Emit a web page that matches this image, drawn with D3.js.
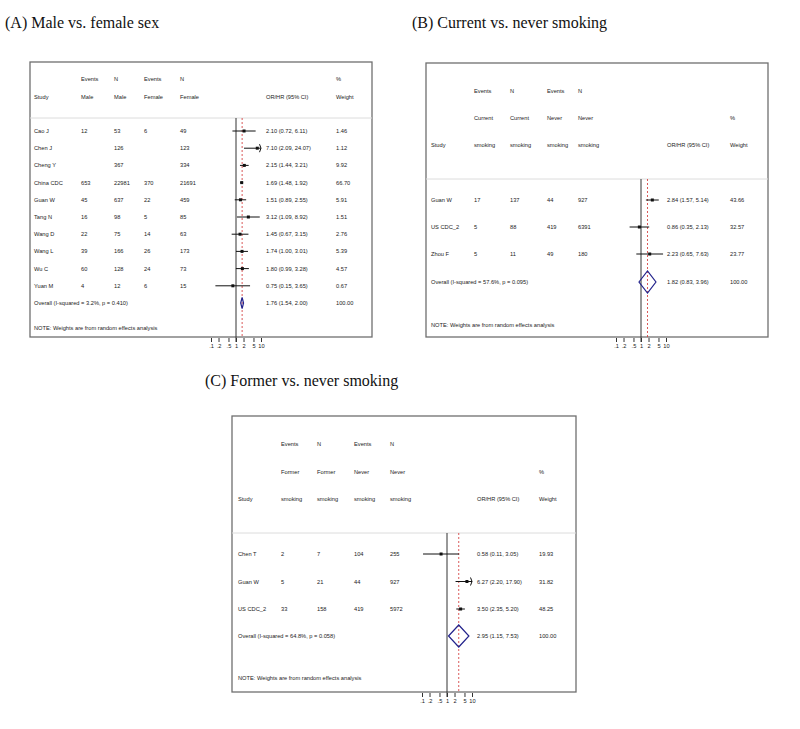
<!DOCTYPE html>
<html>
<head>
<meta charset="utf-8">
<script src="https://cdn.jsdelivr.net/npm/d3@7"></script>
<style>
  body { margin: 0; background: #fff; }
  svg text { font-family: "Liberation Sans", Arial, sans-serif; font-size: 5.7px; fill: #222; }
  svg text.title { font-family: "Liberation Serif", "Times New Roman", serif; font-size: 16px; fill: #111; }
</style>
</head>
<body>
<svg id="chart" width="800" height="729"></svg>
<script>
// Tick labels shared by all three panels
const tickValues = [0.1, 0.2, 0.5, 1, 2, 5, 10];
const tickLabels = ['.1', '.2', '.5', '1', '2', '5', '10'];

// (A) Male vs. female sex
const aTitle = '(A) Male vs. female sex';
const aHeader = [['Events', 'N', 'Events', 'N'], ['Male', 'Male', 'Female', 'Female']];
const aStudies = ['Cao J', 'Chen J', 'Cheng Y', 'China CDC', 'Guan W', 'Tang N', 'Wang D', 'Wang L', 'Wu C', 'Yuan M'];
const aEvents1 = ['12', '', '', '653', '45', '16', '22', '39', '60', '4'];
const aN1 = ['53', '126', '367', '22981', '637', '98', '75', '166', '128', '12'];
const aEvents2 = ['6', '', '', '370', '22', '5', '14', '26', '24', '6'];
const aN2 = ['49', '123', '334', '21691', '459', '85', '63', '173', '73', '15'];
const aOR = [2.10, 7.10, 2.15, 1.69, 1.51, 3.12, 1.45, 1.74, 1.80, 0.75];
const aLo = [0.72, 2.09, 1.44, 1.48, 0.89, 1.09, 0.67, 1.00, 0.99, 0.15];
const aHi = [6.11, 24.07, 3.21, 1.92, 2.55, 8.92, 3.15, 3.01, 3.28, 3.65];
const aWeight = ['1.46', '1.12', '9.92', '66.70', '5.91', '1.51', '2.76', '5.39', '4.57', '0.67'];
const aOverall = [1.76, 1.54, 2.00];
const aOverallLabel = 'Overall  (I-squared = 3.2%, p = 0.410)';

// (B) Current vs. never smoking
const bTitle = '(B) Current vs. never smoking';
const bHeader = [['Events', 'N', 'Events', 'N'], ['Current', 'Current', 'Never', 'Never'], ['smoking', 'smoking', 'smoking', 'smoking']];
const bStudies = ['Guan W', 'US CDC_2', 'Zhou F'];
const bEvents1 = ['17', '5', '5'];
const bN1 = ['137', '88', '11'];
const bEvents2 = ['44', '419', '49'];
const bN2 = ['927', '6391', '180'];
const bOR = [2.84, 0.86, 2.23];
const bLo = [1.57, 0.35, 0.65];
const bHi = [5.14, 2.13, 7.63];
const bWeight = ['43.66', '32.57', '23.77'];
const bOverall = [1.82, 0.83, 3.96];
const bOverallLabel = 'Overall  (I-squared = 57.6%, p = 0.095)';

// (C) Former vs. never smoking
const cTitle = '(C) Former vs. never smoking';
const cHeader = [['Events', 'N', 'Events', 'N'], ['Former', 'Former', 'Never', 'Never'], ['smoking', 'smoking', 'smoking', 'smoking']];
const cStudies = ['Chen T', 'Guan W', 'US CDC_2'];
const cEvents1 = ['2', '5', '33'];
const cN1 = ['7', '21', '158'];
const cEvents2 = ['104', '44', '419'];
const cN2 = ['255', '927', '5972'];
const cOR = [0.58, 6.27, 3.50];
const cLo = [0.11, 2.20, 2.35];
const cHi = [3.05, 17.90, 5.20];
const cWeight = ['19.93', '31.82', '48.25'];
const cOverall = [2.95, 1.15, 7.53];
const cOverallLabel = 'Overall  (I-squared = 64.8%, p = 0.058)';

const note = 'NOTE: Weights are from random effects analysis';
const fmt = d3.format('.2f');

const svg = d3.select('#chart');

// Draw one forest plot panel
function drawPanel(p, lay) {
  const g = svg.append('g');

  g.append('text').attr('class', 'title')
    .attr('x', lay.titleX).attr('y', lay.titleY)
    .text(p.title);

  // frame
  g.append('rect')
    .attr('x', lay.x0).attr('y', lay.y0)
    .attr('width', lay.x1 - lay.x0).attr('height', lay.y1 - lay.y0)
    .attr('fill', 'none').attr('stroke', '#6f6f6f').attr('stroke-width', 1.3);

  // header separator
  g.append('line')
    .attr('x1', lay.x0).attr('x2', lay.x1)
    .attr('y1', lay.headY).attr('y2', lay.headY)
    .attr('stroke', '#dcdcdc').attr('stroke-width', 1);

  // header text
  const last = lay.headRows.length - 1;
  p.header.forEach((row, r) => {
    row.forEach((t, c) => {
      g.append('text').attr('x', lay.cols[c + 1]).attr('y', lay.headRows[r] + 2).text(t);
    });
  });
  g.append('text').attr('x', lay.cols[0]).attr('y', lay.headRows[last] + 2).text('Study');
  g.append('text').attr('x', lay.orX).attr('y', lay.headRows[last] + 2).text('OR/HR (95% CI)');
  g.append('text').attr('x', lay.wX).attr('y', lay.headRows[last] + 2).text('Weight');
  g.append('text').attr('x', lay.wX).attr('y', lay.headRows[last - 1] + 2).text('%');

  const x = d3.scaleLog().domain([0.1, 10]).range([lay.nullX - 25, lay.nullX + 25]);
  const y = i => lay.rowY0 + i * lay.rowStep;

  // solid null line
  g.append('line')
    .attr('x1', x(1)).attr('x2', x(1))
    .attr('y1', lay.headY).attr('y2', lay.axisY + 4)
    .attr('stroke', '#333').attr('stroke-width', 1);

  // dashed overall line
  g.append('line')
    .attr('x1', x(p.overall[0])).attr('x2', x(p.overall[0]))
    .attr('y1', lay.headY).attr('y2', lay.y1)
    .attr('stroke', '#d03030').attr('stroke-width', 0.8)
    .attr('stroke-dasharray', '2,2');

  // study rows
  p.studies.forEach((s, i) => {
    const cells = [s, p.events1[i], p.n1[i], p.events2[i], p.n2[i]];
    cells.forEach((t, c) => {
      g.append('text').attr('x', lay.cols[c]).attr('y', y(i) + 2).text(t);
    });
    g.append('text').attr('x', lay.orX).attr('y', y(i) + 2)
      .text(`${fmt(p.or[i])} (${fmt(p.lo[i])}, ${fmt(p.hi[i])})`);
    g.append('text').attr('x', lay.wX).attr('y', y(i) + 2).text(p.weight[i]);

    const lo = Math.max(p.lo[i], 0.1);
    const hi = Math.min(p.hi[i], 10);
    g.append('line')
      .attr('x1', x(lo)).attr('x2', x(hi))
      .attr('y1', y(i)).attr('y2', y(i))
      .attr('stroke', '#111').attr('stroke-width', 1);
    if (p.hi[i] > 10) {
      g.append('path')
        .attr('d', `M${x(10) - 1.5},${y(i) - 4}L${x(10)},${y(i)}L${x(10) - 1.5},${y(i) + 4}`)
        .attr('fill', 'none').attr('stroke', '#111').attr('stroke-width', 1);
    }
    g.append('rect')
      .attr('x', x(p.or[i]) - 1.5).attr('y', y(i) - 1.5)
      .attr('width', 3).attr('height', 3).attr('fill', '#111');
  });

  // overall row
  const oy = lay.overallY;
  g.append('text').attr('x', lay.cols[0]).attr('y', oy + 2).text(p.overallLabel);
  g.append('text').attr('x', lay.orX).attr('y', oy + 2)
    .text(`${fmt(p.overall[0])} (${fmt(p.overall[1])}, ${fmt(p.overall[2])})`);
  g.append('text').attr('x', lay.wX).attr('y', oy + 2).text('100.00');
  const h = lay.diamondH / 2;
  g.append('path')
    .attr('d', `M${x(p.overall[1])},${oy}L${x(p.overall[0])},${oy - h}L${x(p.overall[2])},${oy}L${x(p.overall[0])},${oy + h}Z`)
    .attr('fill', 'none').attr('stroke', '#23238c').attr('stroke-width', 1.2);

  g.append('text').attr('x', lay.cols[0]).attr('y', lay.noteY + 2).text(note);

  // x axis
  const axis = g.append('g')
    .attr('transform', `translate(0,${lay.axisY})`)
    .call(d3.axisBottom(x).tickValues(tickValues)
      .tickFormat((d, i) => tickLabels[i]).tickSize(4).tickPadding(2));
  axis.select('.domain').remove();
  axis.selectAll('line').attr('stroke', '#333');
  axis.selectAll('text').attr('font-size', 6).attr('font-family', null).attr('fill', '#222');
}

drawPanel({
  title: aTitle, header: aHeader, studies: aStudies, events1: aEvents1, n1: aN1,
  events2: aEvents2, n2: aN2, or: aOR, lo: aLo, hi: aHi, weight: aWeight,
  overall: aOverall, overallLabel: aOverallLabel
}, {
  titleX: 5, titleY: 28, x0: 30, y0: 62, x1: 372, y1: 337, headY: 118,
  headRows: [79, 97], cols: [34, 81, 114, 144, 180], orX: 266, wX: 336,
  nullX: 236, rowY0: 131, rowStep: 17.2, overallY: 303, noteY: 328,
  diamondH: 11, axisY: 338
});

drawPanel({
  title: bTitle, header: bHeader, studies: bStudies, events1: bEvents1, n1: bN1,
  events2: bEvents2, n2: bN2, or: bOR, lo: bLo, hi: bHi, weight: bWeight,
  overall: bOverall, overallLabel: bOverallLabel
}, {
  titleX: 412, titleY: 28, x0: 426, y0: 63, x1: 768, y1: 337, headY: 179,
  headRows: [91, 118, 145], cols: [431, 474, 510, 547, 578], orX: 667, wX: 730,
  nullX: 641, rowY0: 200, rowStep: 27, overallY: 282, noteY: 325,
  diamondH: 22, axisY: 338
});

drawPanel({
  title: cTitle, header: cHeader, studies: cStudies, events1: cEvents1, n1: cN1,
  events2: cEvents2, n2: cN2, or: cOR, lo: cLo, hi: cHi, weight: cWeight,
  overall: cOverall, overallLabel: cOverallLabel
}, {
  titleX: 205, titleY: 386, x0: 232, y0: 416, x1: 576, y1: 692, headY: 533,
  headRows: [444, 472, 499], cols: [238, 281, 317, 354, 390], orX: 477, wX: 539,
  nullX: 447, rowY0: 554, rowStep: 27.5, overallY: 636, noteY: 678,
  diamondH: 22, axisY: 693
});
</script>
</body>
</html>
